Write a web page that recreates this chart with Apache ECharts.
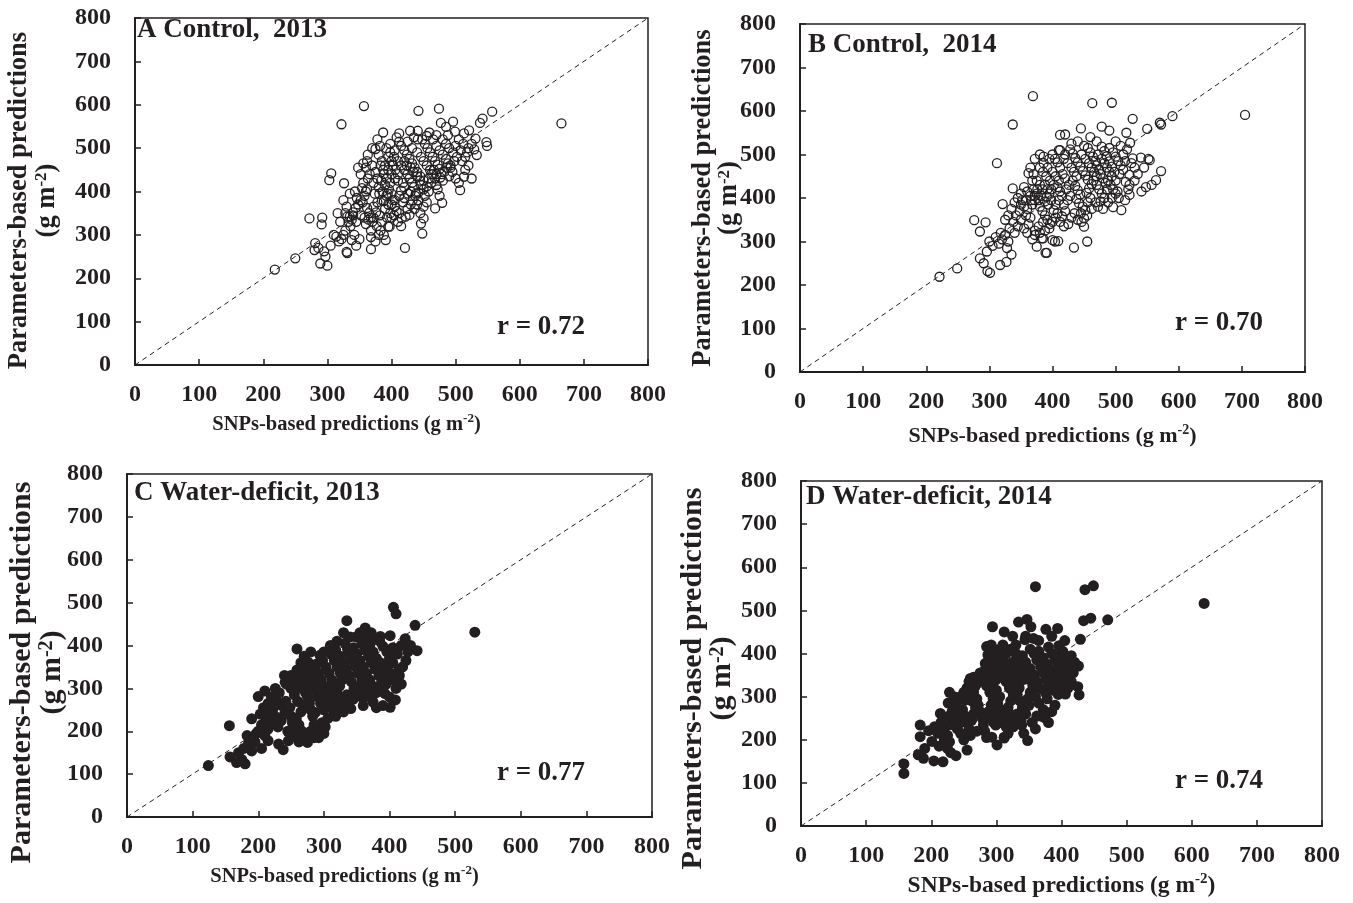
<!DOCTYPE html>
<html><head><meta charset="utf-8">
<script src="https://cdn.jsdelivr.net/npm/echarts@6/dist/echarts.min.js"></script>
<style>html,body{margin:0;padding:0;background:#fff}#c{width:1353px;height:903px}</style>
</head><body><div id="c"></div>
<script>
// ---- data ----
const panelTitles = ['A Control,  2013', 'B Control,  2014', 'C Water-deficit, 2013', 'D Water-deficit, 2014'];
const rLabels = ['r = 0.72', 'r = 0.70', 'r = 0.77', 'r = 0.74'];
const diagonal = [[0, 0], [800, 800]];

const ctrl2013 = [[218,220],[250,246],[272,338],[281,281],[280,265],[289,234],[300,229],[292,340],[291,324],[297,250],[286,270],[295,262],[303,426],[306,442],[305,275],[314,296],[322,555],[326,419],[357,597],[387,536],[665,557],
[330,261],[331,258],[310,300],[318,285],[322,290],[325,300],[328,310],[333,330],[335,342],[331,342],[338,335],[340,345],[328,350],[320,330],[336,320],[342,300],[338,288],[345,275],[350,290],[340,352],[344,362],[348,370],[352,380],[355,375],[346,385],[358,390],[360,400],[354,408],[362,362],[365,350],[368,340],[370,330],[360,325],[368,310],[368,295],[368,267],[375,285],[380,300],[391,288],[395,319],[397,319],[385,330],[382,345],[376,352],[372,365],[378,375],[385,380],[390,360],[395,370],[392,390],[386,400],[380,410],[372,420],[366,440],[360,455],[356,465],[362,470],[370,460],[375,445],[378,430],[384,425],[390,415],[396,405],[400,395],[402,380],[405,365],[408,355],[400,340],[410,330],[415,320],[421,270],[422,342],[428,346],[418,375],[412,390],[415,402],[420,410],[418,420],[410,425],[405,430],[400,440],[395,450],[390,460],[385,470],[380,485],[375,498],[382,505],[392,500],[398,490],[404,480],[410,470],[415,460],[420,450],[425,440],[428,430],[432,420],[435,410],[430,400],[438,395],[442,380],[440,370],[436,360],[446,326],[448,303],[450,338],[445,350],[450,365],[455,375],[452,390],[458,400],[455,412],[450,425],[445,435],[440,445],[436,455],[432,465],[428,475],[424,485],[420,495],[415,505],[412,515],[408,525],[412,534],[429,540],[441,540],[441,520],[442,586],[432,500],[440,490],[446,480],[450,470],[455,460],[460,450],[465,440],[468,430],[462,420],[470,415],[472,405],[468,361],[479,374],[475,390],[480,425],[478,440],[475,452],[472,462],[468,470],[464,480],[460,490],[456,500],[452,510],[448,520],[459,536],[474,591],[477,558],[485,549],[496,561],[470,505],[475,495],[480,485],[485,475],[488,465],[492,455],[495,445],[490,435],[500,430],[505,420],[507,403],[513,434],[498,470],[502,480],[496,490],[490,500],[485,510],[480,520],[488,530],[499,538],[513,534],[521,541],[531,522],[529,497],[533,484],[548,514],[549,505],[542,568],[538,558],[557,584],[510,470],[515,480],[518,490],[520,500],[512,510],[505,520],[500,505],[508,495],[525,510],[520,460],[515,450],[525,430],[400,470],[405,495],[395,480],[388,440],[352,440],[348,455],[363,485],[370,500],[378,520],[398,510],[425,515],[435,525],[455,528],[465,520],[470,530],[420,470],[424,460],[430,455],[434,445],[440,435],[444,425],[446,415],[450,405],[458,430],[462,440],[466,450],[470,440],[476,432],[482,445],[486,455],[492,460],[410,440],[406,450],[402,460],[398,420],[393,430],[387,450],[383,460],[356,420],[363,430],[343,400],[335,395],[325,380],[330,365],[316,350],[345,330],[352,345],[358,340],[364,335],[372,340],[377,320],[383,310],[388,300],[393,340],[398,350],[404,345],[412,350],[416,338],[425,360],[430,370],[420,385],[426,395],[433,380],[437,390],[442,398],[400,370],[405,380],[394,395],[388,378],[381,395],[374,395],[362,405]];

const ctrl2014 = [[221,219],[249,238],[276,349],[294,344],[285,323],[297,232],[301,228],[285,261],[296,277],[291,250],[317,246],[327,253],[312,480],[337,569],[369,634],[337,422],[321,386],[375,288],[389,274],[383,307],[404,300],[400,303],[409,301],[391,274],[385,307],[434,286],[455,300],[450,353],[450,334],[412,545],[412,510],[386,495],[362,457],[463,618],[494,619],[705,591],[590,588],[570,573],[572,569],[550,559],[527,582],[445,560],[420,546],[478,564],[490,555],[517,550],[523,527],[552,490],[554,487],[540,493],[527,491],[572,462],[564,441],[557,430],[548,425],[541,415],[522,453],[522,430],[522,407],[516,437],[503,415],[496,379],[509,372],
[300,300],[305,290],[310,310],[315,295],[320,305],[318,320],[325,315],[330,300],[328,285],[335,270],[332,330],[340,320],[345,335],[338,345],[350,350],[342,360],[348,370],[355,380],[352,395],[358,360],[362,340],[365,355],[360,375],[368,385],[372,395],[365,405],[360,415],[370,420],[375,410],[378,395],[380,380],[384,370],[388,360],[392,350],[396,340],[385,345],[378,335],[372,325],[391,403],[395,410],[398,420],[402,430],[396,440],[390,450],[385,460],[380,470],[386,480],[392,470],[400,460],[405,450],[410,440],[408,425],[412,415],[415,405],[410,395],[405,385],[402,372],[408,365],[415,358],[420,370],[418,385],[424,395],[428,405],[422,420],[426,430],[420,445],[416,455],[412,470],[408,482],[404,490],[400,500],[418,490],[424,480],[430,470],[434,460],[438,450],[432,440],[436,428],[440,418],[444,408],[438,398],[442,388],[448,380],[445,365],[452,372],[456,390],[460,400],[454,412],[458,422],[462,432],[456,442],[452,452],[448,462],[444,472],[440,482],[436,492],[432,502],[428,512],[446,500],[452,490],[458,480],[462,470],[466,460],[470,450],[465,440],[470,430],[474,420],[478,410],[482,400],[476,392],[486,420],[484,435],[480,445],[476,455],[474,465],[470,475],[468,485],[464,495],[460,505],[456,515],[472,500],[478,490],[482,480],[486,470],[490,460],[494,450],[488,440],[492,430],[496,420],[500,440],[498,460],[494,472],[490,484],[486,496],[482,508],[478,518],[490,515],[496,505],[500,495],[504,485],[508,475],[512,465],[506,455],[512,500],[518,512],[508,520],[500,530],[470,530],[460,540],[450,520],[440,530],[430,525],[420,500],[410,510],[395,490],[375,440],[370,455],[365,470],[380,500],[372,490],[368,440],[355,425],[350,410],[345,400],[340,390],[335,375],[330,360],[325,350],[355,330],[360,320],[368,305],[372,315],[380,320],[388,325],[395,330],[400,345],[405,355],[412,345],[418,335],[425,340],[430,355],[435,365],[440,350],[446,345],[455,360],[462,375],[468,390],[472,380],[480,375],[488,390],[494,400],[500,410],[505,400],[515,395],[520,420],[530,440],[535,455],[545,470],[530,470],[525,480],[515,485],[380,430],[384,420],[388,430],[392,420],[398,395],[393,385],[388,392],[382,405],[376,420],[372,405],[367,395],[358,395],[350,385]];

const wd2013 = [[124,120],[156,213],[157,140],[167,127],[180,124],[175,134],[185,171],[190,154],[205,160],[197,195],[190,229],[200,281],[210,294],[259,392],[275,174],[238,157],[246,178],[215,178],[231,170],[218,240],[228,271],[256,209],[266,201],[297,220],[287,244],[406,489],[410,474],[335,458],[439,447],[442,388],[363,441],[349,420],[386,421],[401,423],[424,416],[414,343],[406,333],[396,333],[393,288],[409,273],[401,256],[375,268],[353,284],[360,276],[341,253],[320,256],[530,431],
[170,150],[178,160],[183,190],[195,175],[200,200],[205,215],[210,190],[215,205],[220,220],[212,230],[222,250],[225,235],[230,210],[235,225],[240,240],[236,260],[242,270],[248,255],[250,235],[252,220],[258,230],[245,200],[255,190],[262,215],[265,245],[268,260],[260,270],[255,285],[250,300],[245,310],[241,314],[243,310],[259,343],[271,343],[276,361],[294,377],[289,357],[307,388],[262,330],[266,320],[270,305],[272,290],[275,280],[278,265],[280,250],[283,235],[285,215],[290,200],[292,185],[300,195],[302,210],[306,230],[300,250],[295,265],[290,280],[288,295],[285,310],[282,325],[280,340],[285,350],[292,335],[296,320],[300,305],[304,290],[308,275],[312,260],[315,245],[318,235],[320,290],[324,305],[328,320],[325,335],[320,350],[316,365],[312,378],[318,390],[325,375],[330,360],[334,345],[338,330],[342,315],[346,300],[350,290],[355,305],[358,320],[352,335],[348,350],[344,365],[340,378],[336,392],[332,405],[345,395],[350,380],[355,365],[360,350],[365,335],[370,320],[375,305],[380,290],[385,300],[388,315],[384,330],[378,345],[372,360],[368,375],[362,390],[358,405],[370,400],[375,385],[380,370],[386,360],[390,345],[395,355],[400,370],[396,385],[390,398],[385,410],[378,415],[365,420],[372,430],[355,430],[340,420],[330,430],[320,410],[310,400],[300,385],[298,365],[303,350],[308,335],[312,320],[316,305],[310,290],[265,360],[270,375],[280,385],[260,300],[255,320],[250,330],[240,330],[232,290],[226,300],[220,280],[215,265],[208,255],[203,240],[280,200],[270,190],[262,175],[285,185],[330,270],[335,285],[338,270],[345,275],[362,300],[368,290],[372,280],[360,260],[330,245],[395,310],[405,320],[410,300],[415,330],[420,350],[425,365],[412,380],[405,395],[418,400],[428,385],[432,400],[405,360],[398,340],[390,260],[380,255],[400,280],[418,310],[278,300],[274,320],[268,335],[290,310],[294,300],[298,290],[302,280],[306,265],[312,300],[326,260],[322,280],[318,270]];

const wd2014 = [[158,144],[158,122],[183,234],[196,221],[183,207],[201,196],[190,180],[180,165],[188,157],[204,151],[218,149],[238,163],[214,261],[226,285],[255,176],[230,170],[293,206],[301,188],[312,206],[299,234],[294,462],[285,416],[301,408],[287,397],[283,377],[298,377],[260,342],[267,323],[226,254],[252,292],[360,555],[436,548],[449,557],[334,473],[347,479],[353,462],[376,456],[394,458],[434,476],[445,482],[471,478],[429,433],[344,432],[357,435],[396,418],[426,371],[425,323],[427,304],[406,306],[370,254],[348,198],[339,234],[329,241],[316,249],[312,204],[619,516],
[205,230],[210,215],[215,240],[220,225],[225,210],[230,235],[235,250],[240,225],[245,240],[232,265],[238,275],[242,260],[248,270],[252,255],[255,240],[258,225],[262,245],[265,260],[268,275],[262,290],[258,305],[255,320],[265,310],[270,295],[272,280],[275,265],[278,250],[280,235],[282,220],[285,205],[290,250],[288,265],[292,280],[295,295],[290,310],[285,325],[280,340],[275,355],[282,360],[288,345],[295,330],[300,315],[305,300],[302,285],[306,270],[310,255],[308,240],[315,230],[320,260],[318,275],[322,290],[326,305],[320,320],[315,335],[310,350],[305,365],[312,380],[318,365],[324,350],[330,335],[335,320],[332,305],[336,290],[340,275],[345,260],[350,280],[348,295],[352,310],[356,325],[350,340],[345,355],[340,370],[335,385],[330,400],[340,395],[345,380],[352,365],[358,350],[362,335],[366,320],[360,300],[365,285],[372,270],[378,295],[375,310],[380,325],[376,340],[372,355],[368,370],[362,385],[358,400],[352,410],[365,405],[372,390],[378,375],[384,360],[388,345],[392,330],[386,315],[395,305],[400,320],[404,340],[398,355],[394,370],[390,385],[385,400],[380,415],[395,395],[400,380],[405,365],[410,350],[415,335],[412,375],[408,390],[402,405],[415,395],[420,380],[418,355],[410,320],[330,420],[322,410],[315,400],[305,390],[298,400],[292,420],[310,420],[325,380],[330,365],[336,350],[342,340],[300,340],[296,355],[292,370],[288,385],[270,330],[265,345],[258,335],[250,310],[245,300],[240,290],[235,300],[228,310],[300,260],[296,240],[325,245],[332,260],[338,245],[355,240],[362,255],[318,215],[326,230],[342,215],[360,225],[380,240],[390,280],[385,265],[375,250],[345,440],[365,430],[385,440],[405,430],[325,440],[312,450],[270,220],[260,210],[250,200],[245,215],[228,195],[220,200],[212,185],[225,180]];

const panelData = [ctrl2013, ctrl2014, wd2013, wd2014];
const filled = [false, false, true, true];

// ---- layout ----
const INK = '#231f20';
const FONT = '"Liberation Serif", "Times New Roman", serif';
const grids = [
  {left: 135, top: 18, width: 513, height: 347},
  {left: 800, top: 24, width: 505, height: 348},
  {left: 127, top: 474, width: 525, height: 343},
  {left: 801, top: 481, width: 521, height: 345}
];
const xNameSize = [20.5, 22, 20.5, 23.5];
const xNameGap = [47, 51, 47, 46];
const xNamePad = [[0, 90, 0, 0], [0, 0, 0, 0], [0, 90, 0, 0], [0, 0, 0, 0]];
const yNameSize = [26.5, 26.5, 30, 30];
const yNameGap = [74, 58, 60, 64];
const yNameLH = [28, 26, 30, 29];
const yNamePad = [[0, 18, 0, 0], [0, 0, 0, 0], [0, 54, 0, 0], [0, 50, 0, 0]];
const titlePos = [[137, 17], [808, 32], [134, 480], [806, 484]];
const rPos = [[497, 314], [1175, 310], [497, 760], [1175, 768]];

const tickStyle = {fontFamily: FONT, fontWeight: 'bold', fontSize: 24, color: INK};

function supRich(size) {
  return {s: {fontSize: Math.round(size * 0.65), fontWeight: 'bold', fontFamily: FONT, color: INK, verticalAlign: 'top', lineHeight: Math.round(size * 0.68)}};
}

const option = {
  animation: false,
  backgroundColor: '#fff',
  title: [],
  grid: [], xAxis: [], yAxis: [], series: []
};
for (let i = 0; i < 4; i++) {
  option.grid.push(Object.assign({show: true, borderColor: INK, borderWidth: 1.5, containLabel: false}, grids[i]));
  const axisCommon = {
    type: 'value', min: 0, max: 800, interval: 100, gridIndex: i,
    axisLine: {show: true, onZero: false, lineStyle: {color: INK, width: 2}},
    axisTick: {show: true, inside: true, length: 6, lineStyle: {color: INK, width: 1.5}},
    splitLine: {show: false},
    nameLocation: 'middle',
    nameMoveOverlap: false
  };
  const xs = xNameSize[i];
  option.xAxis.push(Object.assign({}, axisCommon, {
    axisLabel: Object.assign({margin: 18}, tickStyle),
    name: 'SNPs-based predictions (g m{s|-2})',
    nameGap: xNameGap[i],
    nameTextStyle: {fontFamily: FONT, fontWeight: 'bold', fontSize: xs, color: INK, lineHeight: Math.round(xs * 1.2), padding: xNamePad[i], rich: supRich(xs)}
  }));
  const ys = yNameSize[i];
  option.yAxis.push(Object.assign({}, axisCommon, {
    axisLabel: Object.assign({margin: 24}, tickStyle),
    name: 'Parameters-based predictions\n(g m{s|-2})',
    nameRotate: 90,
    nameGap: yNameGap[i],
    nameTextStyle: {fontFamily: FONT, fontWeight: 'bold', fontSize: ys, color: INK, lineHeight: yNameLH[i], padding: yNamePad[i], rich: supRich(ys)}
  }));
  option.series.push({
    type: 'line', xAxisIndex: i, yAxisIndex: i, data: diagonal, symbol: 'none', silent: true,
    lineStyle: {color: INK, width: 1, type: [5, 4]}, z: 1
  });
  option.series.push({
    type: 'scatter', xAxisIndex: i, yAxisIndex: i, data: panelData[i], silent: true,
    symbol: 'circle', symbolSize: filled[i] ? 11 : 9,
    itemStyle: filled[i] ? {color: INK, opacity: 1} : {color: 'rgba(255,255,255,0)', borderColor: INK, borderWidth: 1.3, opacity: 1},
    z: 2
  });
  option.title.push({
    text: panelTitles[i], left: titlePos[i][0], top: titlePos[i][1], padding: 0,
    textStyle: {fontFamily: FONT, fontWeight: 'bold', fontSize: 27, color: INK}
  });
  option.title.push({
    text: rLabels[i], left: rPos[i][0], top: rPos[i][1], padding: 0,
    textStyle: {fontFamily: FONT, fontWeight: 'bold', fontSize: 27, color: INK}
  });
}
const chart = echarts.init(document.getElementById('c'), null, {renderer: 'canvas'});
chart.setOption(option);
</script>
</body></html>
